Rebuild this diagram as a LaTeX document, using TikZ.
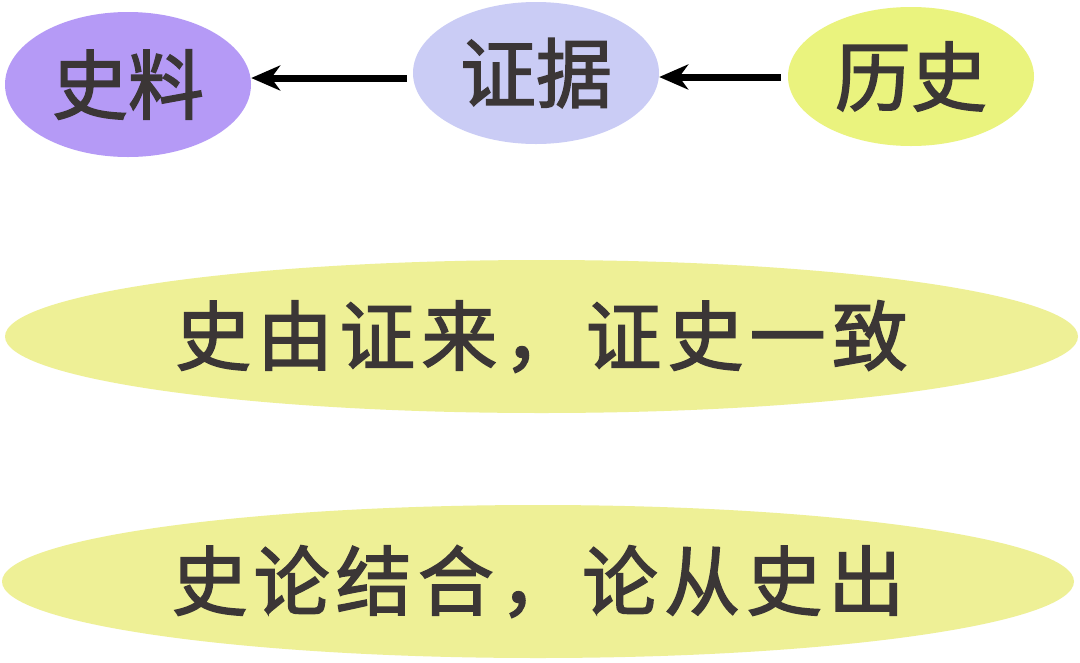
\documentclass[tikz,border=0pt]{standalone}
\usepackage{fontspec}
\newfontfamily\cjk{Noto Sans CJK SC}[FakeBold=2]
\newfontfamily\cjkwide{Noto Sans CJK SC}[FakeBold=2,LetterSpace=8]
\usetikzlibrary{shapes.geometric,arrows.meta}
\definecolor{purp}{HTML}{B59AF6}
\definecolor{lav}{HTML}{CACCF5}
\definecolor{lime}{HTML}{EAF37E}
\definecolor{pale}{HTML}{EEF096}
\definecolor{txt}{HTML}{3B3636}
\begin{document}
\begin{tikzpicture}[x=1pt,y=-1pt,
  blob/.style={ellipse, inner sep=0pt, text=txt, font=\cjk\fontsize{76}{80}\selectfont},
  band/.style={ellipse, inner sep=0pt, text=txt, fill=pale, font=\cjkwide\fontsize{76}{80}\selectfont},
  arr/.style={line width=7pt, -{Stealth[length=29pt,width=25pt,inset=9pt]}}]
\useasboundingbox[fill=white] (0,0) rectangle (1080,662);
\node[blob, fill=purp, minimum width=246pt, minimum height=145pt] (sl) at (128,84.5) {史料};
\node[blob, fill=lav, minimum width=246pt, minimum height=142pt] (zj) at (536,73) {证据};
\node[blob, fill=lime, minimum width=246pt, minimum height=139pt] (ls) at (911,76.5) {历史};
\draw[arr, shorten <=6pt] ([yshift=-5pt]zj.west) -- ([yshift=6.5pt]sl.east);
\draw[arr, shorten <=7pt] ([yshift=-0.5pt]ls.west) -- ([yshift=-4pt]zj.east);
\node[band, minimum width=1073pt, minimum height=153pt] (b1) at (541.5,336.5) {史由证来，证史一致};
\node[band, minimum width=1072pt, minimum height=153pt] (b2) at (538,581.5) {史论结合，论从史出\hspace{5pt}};
\end{tikzpicture}
\end{document}
